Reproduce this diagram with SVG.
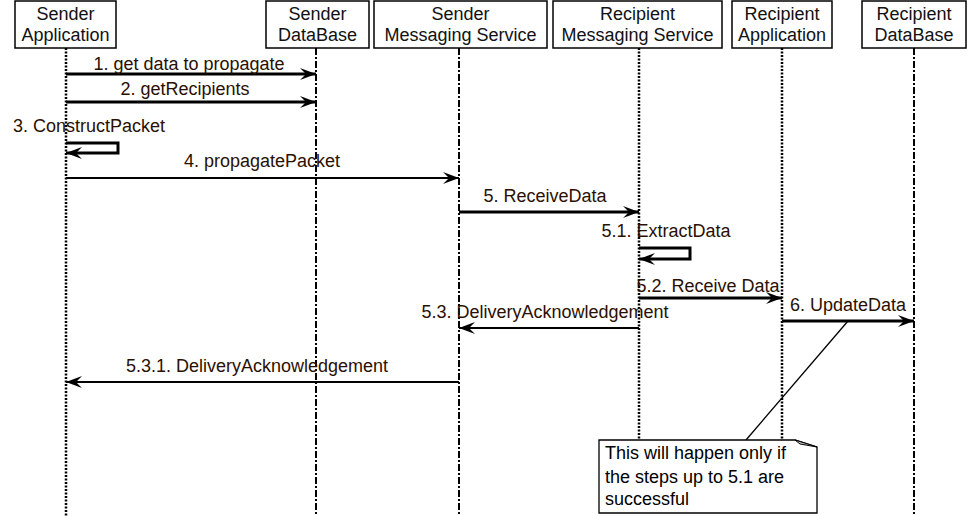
<svg xmlns="http://www.w3.org/2000/svg" width="969" height="516" viewBox="0 0 969 516">
<style>
.hdr rect{fill:#fff;stroke:#000;stroke-width:1.5}
text{font-family:"Liberation Sans",Arial,sans-serif;font-size:18px}
.hdr text{fill:#111;text-anchor:middle}
.lbl{fill:#2a1000;text-anchor:middle}
.life{stroke:#000;stroke-width:2;stroke-dasharray:7 2 2 2;fill:none}
.life2{stroke:#000;stroke-width:2.5;stroke-dasharray:2 1.5;fill:none}
.msg{stroke:#000;stroke-width:3;fill:none}
.msgt{stroke:#000;stroke-width:2;fill:none}
</style>
<defs>
<marker id="ah" markerUnits="userSpaceOnUse" markerWidth="18" markerHeight="14" refX="16" refY="7" orient="auto">
<path d="M0,1 L16,7 L0,13 L6,7 z" fill="#000"/>
</marker>
</defs>
<rect width="969" height="516" fill="#fff"/>

<g id="lifelines">
<line class="life2" x1="66" y1="48" x2="66" y2="516"/>
<line class="life" x1="316" y1="48" x2="316" y2="516"/>
<line class="life" x1="459" y1="48" x2="459" y2="516"/>
<line class="life2" x1="639" y1="48" x2="639" y2="439"/>
<line class="life2" x1="782" y1="48" x2="782" y2="439"/>
<line class="life" x1="914" y1="48" x2="914" y2="516"/>
</g>

<g id="n-sender-app" class="hdr"><rect x="15" y="1" width="101" height="47"/><text x="65.5" y="20">Sender</text><text x="65.5" y="41">Application</text></g>
<g id="n-sender-db" class="hdr"><rect x="266" y="1" width="103" height="47"/><text x="317.5" y="20">Sender</text><text x="317.5" y="41">DataBase</text></g>
<g id="n-sender-ms" class="hdr"><rect x="374" y="1" width="173" height="47"/><text x="460.5" y="20">Sender</text><text x="460.5" y="41">Messaging Service</text></g>
<g id="n-recip-ms" class="hdr"><rect x="553" y="1" width="169" height="47"/><text x="637.5" y="20">Recipient</text><text x="637.5" y="41">Messaging Service</text></g>
<g id="n-recip-app" class="hdr"><rect x="732" y="1" width="100" height="47"/><text x="782" y="20">Recipient</text><text x="782" y="41">Application</text></g>
<g id="n-recip-db" class="hdr"><rect x="862" y="1" width="104" height="47"/><text x="914" y="20">Recipient</text><text x="914" y="41">DataBase</text></g>

<g id="connectors">
<line class="msg" x1="66" y1="74" x2="316" y2="74" marker-end="url(#ah)"/>
<line class="msg" x1="66" y1="102" x2="316" y2="102" marker-end="url(#ah)"/>
<polyline class="msg" points="66,143 118,143 118,153 66,153" marker-end="url(#ah)"/>
<line class="msgt" x1="66" y1="178" x2="459" y2="178" marker-end="url(#ah)"/>
<line class="msg" x1="459" y1="212" x2="639" y2="212" marker-end="url(#ah)"/>
<polyline class="msg" points="639,248 690,248 690,259 639,259" marker-end="url(#ah)"/>
<line class="msg" x1="639" y1="298" x2="782" y2="298" marker-end="url(#ah)"/>
<line class="msg" x1="782" y1="321" x2="914" y2="321" marker-end="url(#ah)"/>
<line class="msgt" x1="639" y1="328" x2="459" y2="328" marker-end="url(#ah)"/>
<line class="msgt" x1="459" y1="382" x2="66" y2="382" marker-end="url(#ah)"/>
<line stroke="#000" stroke-width="1.3" x1="848" y1="321" x2="746" y2="440"/>
</g>

<g id="labels">
<text class="lbl" x="189" y="70">1. get data to propagate</text>
<text class="lbl" x="185" y="95">2. getRecipients</text>
<text class="lbl" x="13" y="132" text-anchor="start" style="text-anchor:start">3. ConstructPacket</text>
<text class="lbl" x="262" y="167">4. propagatePacket</text>
<text class="lbl" x="545" y="202">5. ReceiveData</text>
<text class="lbl" x="666" y="237">5.1. ExtractData</text>
<text class="lbl" x="708" y="292">5.2. Receive Data</text>
<text class="lbl" x="848" y="311">6. UpdateData</text>
<text class="lbl" x="545" y="318">5.3. DeliveryAcknowledgement</text>
<text class="lbl" x="257" y="372">5.3.1. DeliveryAcknowledgement</text>
</g>

<g id="note">
<path d="M599,440 L795,440 L817,447 L817,513 L599,513 Z" fill="#fff" stroke="#000" stroke-width="1.3"/>
<path d="M795,440 L817,447 L800,444 Z" fill="#ccc" stroke="#000" stroke-width="1"/>
<text x="605" y="459" fill="#000">This will happen only if</text>
<text x="605" y="483" fill="#000">the steps up to 5.1 are</text>
<text x="605" y="505" fill="#000">successful</text>
</g>
</svg>
